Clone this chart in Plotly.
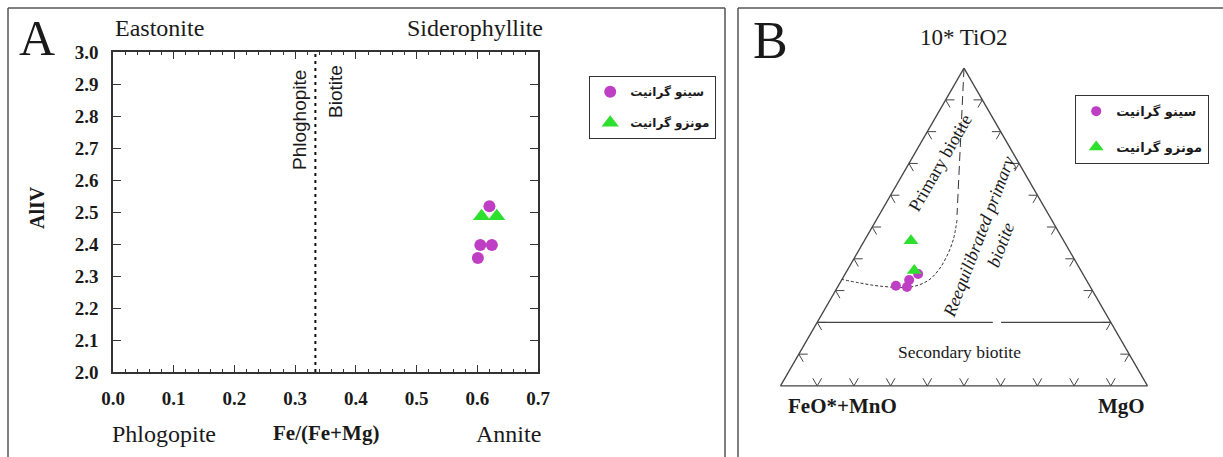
import plotly.graph_objects as go

W, H = 1223, 457

# ---------------- data ----------------
series_names = ["سینو گرانیت", "مونزو گرانیت"]

# Panel A: Fe/(Fe+Mg) vs AlIV
a_syeno_x = [0.601, 0.605, 0.624, 0.620]
a_syeno_y = [2.356, 2.397, 2.397, 2.518]
a_monzo_x = [0.607, 0.632]
a_monzo_y = [2.487, 2.487]

a_xticks = [0.0, 0.1, 0.2, 0.3, 0.4, 0.5, 0.6, 0.7]
a_yticks = [2.0, 2.1, 2.2, 2.3, 2.4, 2.5, 2.6, 2.7, 2.8, 2.9, 3.0]
phlog_biotite_boundary = 1 / 3

# Panel B: ternary 10*TiO2 (a) – FeO*+MnO (b) – MgO (c)
b_syeno_ti = [0.315, 0.311, 0.333, 0.352]
b_syeno_fe = [0.528, 0.500, 0.483, 0.449]
b_syeno_mg = [0.157, 0.189, 0.184, 0.199]
b_monzo_ti = [0.457, 0.363]
b_monzo_fe = [0.416, 0.454]
b_monzo_mg = [0.127, 0.183]

# field boundaries (ternary coordinates)
prim_long_ti = [1.0, 0.538]
prim_long_fe = [0.0, 0.250]
prim_long_mg = [0.0, 0.212]
prim_curve_ti = [0.522, 0.459, 0.4025, 0.362, 0.330, 0.311, 0.314, 0.324, 0.335]
prim_curve_fe = [0.258, 0.300, 0.348, 0.390, 0.435, 0.491, 0.572, 0.622, 0.665]
prim_curve_mg = [0.220, 0.241, 0.2495, 0.248, 0.235, 0.198, 0.114, 0.054, 0.000]
sec_line_ti = [0.2, 0.2, None, 0.2, 0.2]
sec_line_fe = [0.8, 0.3215, None, 0.299, 0.0]
sec_line_mg = [0.0, 0.4785, None, 0.501, 0.8]

tern_ticks = [0.1, 0.2, 0.3, 0.4, 0.5, 0.6, 0.7, 0.8, 0.9]

MAGENTA = "#BF3FC4"
GREEN = "#2EE02E"
INK = "#1a1a1a"
SERIF = "Liberation Serif"


def px(x):
    return x / W


def py(y):
    return 1 - y / H


fig = go.Figure()

# ---------------- Panel A ----------------
fig.add_trace(go.Scatter(
    x=a_syeno_x, y=a_syeno_y, mode="markers", name=series_names[0],
    marker=dict(symbol="circle", size=12, color=MAGENTA),
    legend="legend", legendgroup="a1", xaxis="x", yaxis="y"))
fig.add_trace(go.Scatter(
    x=a_monzo_x, y=a_monzo_y, mode="markers", name=series_names[1],
    marker=dict(symbol="triangle-up", size=15, color=GREEN),
    legend="legend", legendgroup="a2", xaxis="x", yaxis="y"))

# ---------------- Panel B (ternary) ----------------
# chevron tick marks
L = 0.024
ca, cb, cc = [], [], []
for t in tern_ticks:
    # bottom edge (a = 0)
    ca += [L, 0, L, None]
    cb += [1 - t - L, 1 - t, 1 - t, None]
    cc += [t, t, t - L, None]
    # left edge (c = 0)
    ca += [t - L, t, t, None]
    cb += [1 - t, 1 - t, 1 - t - L, None]
    cc += [L, 0, L, None]
    # right edge (b = 0)
    ca += [t - L, t, t, None]
    cb += [L, 0, L, None]
    cc += [1 - t, 1 - t, 1 - t - L, None]
fig.add_trace(go.Scatterternary(
    a=ca, b=cb, c=cc, mode="lines", line=dict(color="#444", width=1),
    showlegend=False, hoverinfo="skip", subplot="ternary"))

fig.add_trace(go.Scatterternary(
    a=sec_line_ti, b=sec_line_fe, c=sec_line_mg, mode="lines",
    line=dict(color="#444", width=1.1), showlegend=False, hoverinfo="skip",
    subplot="ternary"))
fig.add_trace(go.Scatterternary(
    a=prim_long_ti, b=prim_long_fe, c=prim_long_mg, mode="lines",
    line=dict(color="#333", width=1, dash="9px,5px"), showlegend=False,
    hoverinfo="skip", subplot="ternary"))
fig.add_trace(go.Scatterternary(
    a=prim_curve_ti, b=prim_curve_fe, c=prim_curve_mg, mode="lines",
    line=dict(color="#333", width=1, dash="3px,2px", shape="spline"),
    showlegend=False, hoverinfo="skip", subplot="ternary"))

fig.add_trace(go.Scatterternary(
    a=b_syeno_ti, b=b_syeno_fe, c=b_syeno_mg, mode="markers",
    name=series_names[0], marker=dict(symbol="circle", size=10, color=MAGENTA),
    legend="legend2", legendgroup="b1", subplot="ternary"))
fig.add_trace(go.Scatterternary(
    a=b_monzo_ti, b=b_monzo_fe, c=b_monzo_mg, mode="markers",
    name=series_names[1], marker=dict(symbol="triangle-up", size=13, color=GREEN),
    legend="legend2", legendgroup="b2", subplot="ternary"))

tern_axis = dict(showticklabels=False, showgrid=False, ticks="", showline=True,
                 linecolor="#444", linewidth=1.3, title=dict(text=""))

axis_line = dict(showline=True, linecolor="#333", linewidth=1.5, mirror="ticks",
                 ticks="inside", tickcolor="#333", tickwidth=1.3, showgrid=False,
                 zeroline=False, automargin=False,
                 tickfont=dict(family=SERIF, size=19, color=INK, weight="bold"))

fig.update_layout(
    width=W, height=H, margin=dict(l=0, r=0, t=0, b=0, pad=0, autoexpand=False),
    paper_bgcolor="white", plot_bgcolor="white", showlegend=True,
    xaxis=dict(domain=[px(113), px(538)], range=[0, 0.7], tickvals=a_xticks,
               tickformat=".1f", ticklen=7, ticklabelstandoff=8,
               minor=dict(ticks="inside", dtick=0.02, ticklen=3, tickcolor="#333",
                          tickwidth=1.2, showgrid=False),
               anchor="y", **axis_line),
    yaxis=dict(domain=[py(372), py(52)], range=[2.0, 3.0], tickvals=a_yticks,
               tickformat=".1f", ticklen=8, ticklabelstandoff=9,
               anchor="x", **axis_line),
    ternary=dict(domain=dict(x=[px(780.5), px(1147.5)], y=[py(386), py(68)]),
                 bgcolor="white", sum=1,
                 aaxis=tern_axis, baxis=tern_axis, caxis=tern_axis),
    legend=dict(x=px(589), y=py(76), xanchor="left", yanchor="top",
                bordercolor="#333", borderwidth=1.2, bgcolor="white",
                traceorder="grouped", tracegroupgap=12,
                font=dict(family="DejaVu Sans", size=12, color=INK, weight="bold")),
    legend2=dict(x=px(1075), y=py(95), xanchor="left", yanchor="top",
                 bordercolor="#333", borderwidth=1.2, bgcolor="white",
                 traceorder="grouped", tracegroupgap=16,
                 font=dict(family="DejaVu Sans", size=13, color=INK, weight="bold")),
)

# panel frames
frame = dict(type="line", xref="paper", yref="paper", line=dict(color="#555", width=1.5))
for x0, y0, x1, y1 in [(8, 8, 725, 8), (8, 8, 8, 460), (725, 8, 725, 460),
                       (738, 8, 1223, 8), (738, 8, 738, 460)]:
    fig.add_shape(x0=px(x0), y0=py(y0), x1=px(x1), y1=py(y1), **frame)

# phlogopite / biotite boundary
fig.add_shape(type="line", xref="x", yref="y", x0=phlog_biotite_boundary,
              x1=phlog_biotite_boundary, y0=2.0, y1=3.0,
              line=dict(color="#111", width=2, dash="3px,4px"))


def ann(text, x, y, size, bold=False, italic=False, angle=0, family=SERIF,
        xanchor="center", yanchor="middle"):
    fig.add_annotation(
        text=text, x=px(x), y=py(y), xref="paper", yref="paper", showarrow=False,
        xanchor=xanchor, yanchor=yanchor, textangle=angle,
        font=dict(family=family, size=size, color=INK,
                  weight="bold" if bold else "normal",
                  style="italic" if italic else "normal"))


# Panel A texts
ann("A", 37, 38, 50)
ann("Eastonite", 113, 28, 24, xanchor="left")
ann("Siderophyllite", 545, 28, 24, xanchor="right")
ann("Phlogopite", 110, 434, 24, xanchor="left")
ann("Fe/(Fe+Mg)", 326, 433, 21, bold=True)
ann("Annite", 543, 434, 24, xanchor="right")
ann("AlIV", 37, 208, 20, bold=True, angle=-90)
ann("Phloghopite", 299, 120, 19, angle=-90, family="Liberation Sans")
ann("Biotite", 335, 92, 19, angle=-90, family="Liberation Sans")

# Panel B texts
ann("B", 770, 40, 52)
ann("10* TiO2", 964, 37, 23)
ann("FeO*+MnO", 842, 406, 21, bold=True)
ann("MgO", 1121, 406, 21, bold=True)
ann("Primary biotite", 940, 163, 18, angle=-60)
ann("Reequilibrated primary<br>biotite", 989, 241, 18, italic=True, angle=-69)
ann("Secondary biotite", 959, 352, 17.5)

fig.write_html("out.html",
               config={"displayModeBar": False},
               post_script="document.body.style.margin='0px';"
                           "document.body.style.overflow='hidden';")
